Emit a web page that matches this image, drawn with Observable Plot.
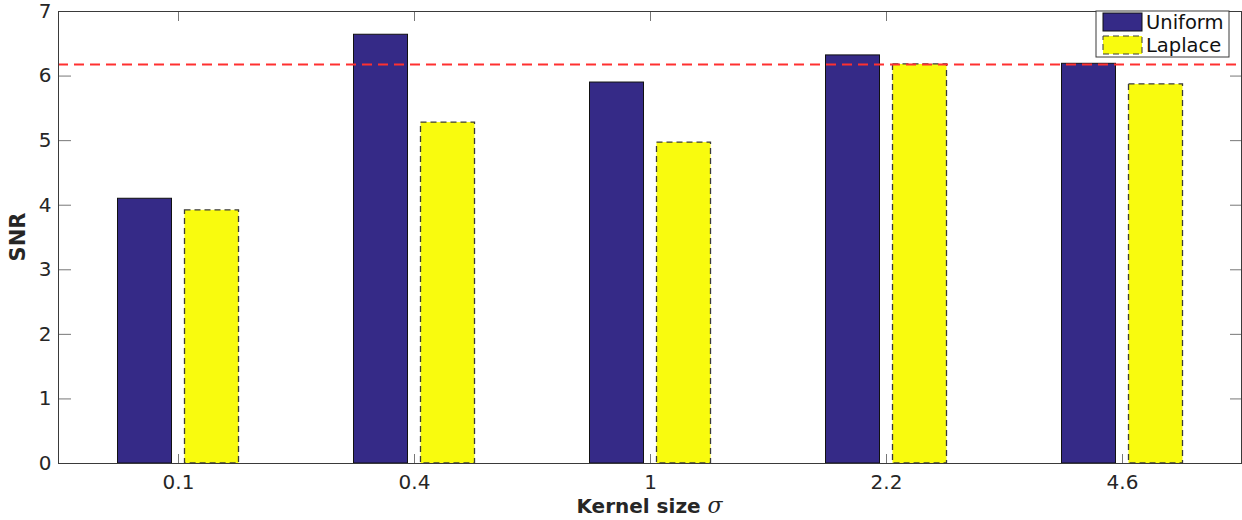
<!DOCTYPE html>
<html>
<head>
<meta charset="utf-8">
<script src="https://cdn.jsdelivr.net/npm/d3@7"></script>
<script src="https://cdn.jsdelivr.net/npm/@observablehq/plot@0.6"></script>
<style>
  html, body { margin: 0; padding: 0; background: #fff; }
  #chart { position: relative; width: 1242px; height: 520px; }
</style>
</head>
<body>
<div id="chart"></div>
<script>
// Kernel sizes (σ) and SNR reached by each kernel
const sigmas = ["0.1", "0.4", "1", "2.2", "4.6"];
const uniformSNR = [4.10, 6.64, 5.90, 6.32, 6.19];
const laplaceSNR = [3.92, 5.28, 4.97, 6.18, 5.87];
const referenceSNR = 6.18;
const yTicks = [0, 1, 2, 3, 4, 5, 6, 7];
const seriesNames = ["Uniform", "Laplace"];

const uniformRows = sigmas.map((s, i) => ({sigma: s, snr: uniformSNR[i]}));
const laplaceRows = sigmas.map((s, i) => ({sigma: s, snr: laplaceSNR[i]}));

const navy = "#352a87";
const yellow = "#f9fb0e";
const axisColor = "#3a3a3a";
const font = "'DejaVu Sans', 'Liberation Sans', Arial, sans-serif";

const W = 1242, H = 520;
const mL = 58, mR = 1, mT = 11, mB = 57;
const step = (W - mL - mR) / sigmas.length;
const barW = 54;
const shift = 33.5;

const chart = Plot.plot({
  width: W,
  height: H,
  marginLeft: mL,
  marginRight: mR,
  marginTop: mT,
  marginBottom: mB,
  style: {fontFamily: font, fontSize: "20px", color: "#262626", background: "#fff"},
  x: {domain: sigmas, paddingInner: 1 - barW / step, paddingOuter: (1 - barW / step) / 2, label: null},
  y: {domain: [0, 7], label: null},
  marks: [
    Plot.barY(uniformRows, {x: "sigma", y: "snr", dx: -shift, fill: navy, stroke: "#111", strokeWidth: 1}),
    Plot.barY(laplaceRows, {x: "sigma", y: "snr", dx: shift, fill: yellow, stroke: "#3a3a3a", strokeWidth: 1.3, strokeDasharray: "6,4"}),
    Plot.ruleY([referenceSNR], {stroke: "#ff3030", strokeWidth: 2, strokeDasharray: "10,6"}),
    // inward tick marks on all four sides
    Plot.axisY(yTicks, {anchor: "left", tickSize: -13, text: null, label: null, stroke: "#777"}),
    Plot.axisY(yTicks, {anchor: "right", tickSize: -12, text: null, label: null, stroke: "#777"}),
    Plot.axisX({anchor: "bottom", tickSize: -9, text: null, label: null, stroke: "#777"}),
    Plot.axisX({anchor: "top", tickSize: -9, text: null, label: null, stroke: "#777"}),
    // tick labels
    Plot.axisY(yTicks, {anchor: "left", tickSize: 0, tickPadding: 7, tickFormat: "d", label: null, fill: "#262626", fontSize: 20}),
    Plot.axisX({anchor: "bottom", tickSize: 0, tickPadding: 11, label: null, fill: "#262626", fontSize: 20}),
    Plot.frame({stroke: axisColor, strokeWidth: 1})
  ]
});

document.getElementById("chart").appendChild(chart);

const svg = d3.select(chart);

// axis titles
svg.append("text")
  .attr("x", mL + (W - mL - mR) / 2)
  .attr("y", 513)
  .attr("text-anchor", "middle")
  .attr("font-family", font)
  .attr("font-weight", "bold")
  .attr("font-size", 20)
  .attr("fill", "#262626")
  .call(t => {
    t.append("tspan").text("Kernel size ");
    t.append("tspan").attr("font-family", "'DejaVu Serif', 'Liberation Serif', serif")
      .attr("font-style", "italic").attr("font-weight", "normal").attr("font-size", 22).text("σ");
  });

svg.append("text")
  .attr("transform", `translate(25, ${mT + (H - mT - mB) / 2}) rotate(-90)`)
  .attr("text-anchor", "middle")
  .attr("font-family", font)
  .attr("font-weight", "bold")
  .attr("font-size", 21)
  .attr("fill", "#262626")
  .text("SNR");

// legend box in the top-right corner
const lg = svg.append("g").attr("transform", "translate(1096, 11)");
lg.append("rect").attr("width", 133).attr("height", 46).attr("fill", "#fff").attr("stroke", axisColor);
const swatches = [
  {fill: navy, stroke: "#111", dash: null},
  {fill: yellow, stroke: "#3a3a3a", dash: "6,4"}
];
seriesNames.forEach((name, i) => {
  const row = lg.append("g").attr("transform", `translate(7, ${2 + i * 23})`);
  row.append("rect").attr("width", 39).attr("height", 18)
    .attr("fill", swatches[i].fill).attr("stroke", swatches[i].stroke)
    .attr("stroke-dasharray", swatches[i].dash);
  row.append("text").attr("x", 43).attr("y", 16)
    .attr("text-anchor", "start")
    .attr("font-family", font)
    .attr("font-size", 19.5)
    .attr("fill", "#111").text(name);
});
</script>
</body>
</html>
